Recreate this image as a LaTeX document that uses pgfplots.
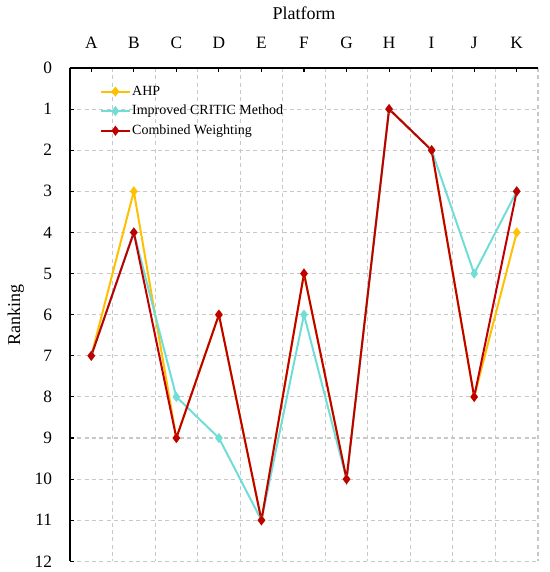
\documentclass[border=0pt]{standalone}
\usepackage{pgfplots}
\pgfplotsset{compat=1.18}
\usepackage{fontspec}
\setmainfont{Liberation Serif}
\definecolor{ahp}{HTML}{FFC000}
\definecolor{critic}{HTML}{70DDD6}
\definecolor{comb}{HTML}{C00000}
\definecolor{gridc}{HTML}{C8C8C8}
\begin{document}
\begin{tikzpicture}
\begin{axis}[
  name=a,
  scale only axis,
  width=351pt, height=370pt,
  xmin=-0.5, xmax=10.5,
  ymin=0, ymax=12,
  y dir=reverse,
  axis x line*=top,
  axis y line*=left,
  axis line style={black, line width=0.9pt, -},
  xtick={0,...,10},
  xticklabels={A,B,C,D,E,F,G,H,I,J,K},
  minor xtick={-0.5,0.5,...,10.5},
  ytick={0,...,12},
  tick align=inside,
  major tick length=3pt,
  tick style={black, line width=0.8pt},
  xmajorgrids=false,
  xminorgrids=true,
  ymajorgrids=true,
  minor tick length=0pt,
  grid style={gridc, dashed, line width=0.8pt, dash pattern=on 3pt off 2.5pt},
  minor grid style={gridc, line width=0.8pt, dash pattern=on 3pt off 2.5pt},
  xlabel={Platform},
  ylabel={Ranking},
  ticklabel style={font=\fontsize{13}{15}\selectfont},
  label style={font=\fontsize{13.5}{15}\selectfont},
  xticklabel style={yshift=11pt},
  yticklabel style={xshift=-10pt},
  xlabel style={yshift=6pt},
  ylabel style={yshift=1pt},
  /pgf/number format/assume math mode=true,
  legend style={draw=none, fill=none, at={(0.055,0.975)}, anchor=north west,
    font=\fontsize{10.5}{12}\selectfont, row sep=2pt,
    nodes={inner xsep=1pt}},
  legend cell align=left,
  legend image code/.code={
    \draw[mark repeat=2, mark phase=2] plot coordinates {(0cm,0cm) (0.38cm,0cm) (0.76cm,0cm)};
  },
  clip=false,
]
\addplot[ahp, line width=1.5pt, mark=diamond*, mark size=2.6pt, mark options={solid, fill=ahp, draw=ahp}]
  coordinates {(0,7)(1,3)(2,9)(3,6)(4,11)(5,5)(6,10)(7,1)(8,2)(9,8)(10,4)};
\addlegendentry{AHP}
\addplot[critic, line width=1.5pt, mark=diamond*, mark size=2.6pt, mark options={solid, fill=critic, draw=critic}]
  coordinates {(0,7)(1,4)(2,8)(3,9)(4,11)(5,6)(6,10)(7,1)(8,2)(9,5)(10,3)};
\addlegendentry{Improved CRITIC Method}
\addplot[comb, line width=1.5pt, mark=diamond*, mark size=2.6pt, mark options={solid, fill=comb, draw=comb}]
  coordinates {(0,7)(1,4)(2,9)(3,6)(4,11)(5,5)(6,10)(7,1)(8,2)(9,8)(10,3)};
\addlegendentry{Combined Weighting}
\end{axis}
\pgfresetboundingbox
\path ([xshift=-52.5pt,yshift=-8pt]a.south west) rectangle ([xshift=9pt,yshift=51pt]a.north east);
\end{tikzpicture}
\end{document}
